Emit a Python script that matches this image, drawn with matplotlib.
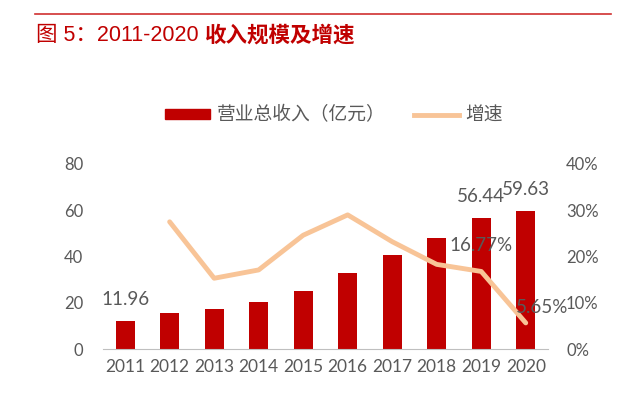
import matplotlib
matplotlib.use('Agg')
import matplotlib.pyplot as plt
from matplotlib.lines import Line2D
from matplotlib.patches import Patch

plt.rcParams['font.family'] = ['Lato', 'Noto Sans CJK SC', 'DejaVu Sans']

years = ['2011', '2012', '2013', '2014', '2015', '2016', '2017', '2018', '2019', '2020']
revenue = [11.96, 15.4, 17.3, 20.3, 25.2, 32.7, 40.6, 48.1, 56.44, 59.63]
growth = [None, 27.5, 15.3, 17.1, 24.6, 29.0, 23.2, 18.3, 16.77, 5.65]

bar_color = '#c00000'
line_color = '#f8c497'
text_color = '#595959'
title_color = '#c00000'

fig = plt.figure(figsize=(6.35, 3.98), dpi=100)

# header rule and title (number part regular, Chinese part bold)
fig.add_artist(Line2D([0.055, 0.962], [0.965, 0.965], color='#d03030', lw=1.2))
t1 = fig.text(0.057, 0.912, '图 5：2011-2020 ', color=title_color,
              fontsize=15.5, va='center', ha='left',
              family=['Liberation Sans', 'Noto Sans CJK SC'])
renderer = fig.canvas.get_renderer()
bb = t1.get_window_extent(renderer)
fig.text(bb.x1 / fig.bbox.width, 0.912, '收入规模及增速', color=title_color,
         fontsize=15.5, fontweight='bold', va='center', ha='left',
         family=['Noto Sans CJK SC', 'DejaVu Sans'])

ax = fig.add_axes([0.162, 0.123, 0.701, 0.465])
x = list(range(len(years)))
ax.bar(x, revenue, width=0.43, color=bar_color, zorder=2)
ax.set_xlim(-0.5, 9.5)
ax.set_ylim(0, 80)
ax.set_yticks([0, 20, 40, 60, 80])
ax.set_xticks(x)
ax.set_xticklabels(years)
for s in ['top', 'right', 'left']:
    ax.spines[s].set_visible(False)
ax.spines['bottom'].set_color('#bfbfbf')
ax.tick_params(length=0, colors=text_color, labelsize=12)
ax.tick_params(axis='x', pad=7, labelsize=12.5)
ax.tick_params(axis='y', pad=14)

ax2 = ax.twinx()
gx = [i for i, g in enumerate(growth) if g is not None]
gy = [g for g in growth if g is not None]
ax2.plot(gx, gy, color=line_color, lw=3.5, solid_capstyle='round', zorder=3)
ax2.set_ylim(0, 40)
ax2.set_yticks([0, 10, 20, 30, 40])
ax2.set_yticklabels(['0%', '10%', '20%', '30%', '40%'])
for s in ['top', 'right', 'left', 'bottom']:
    ax2.spines[s].set_visible(False)
ax2.tick_params(length=0, colors=text_color, labelsize=12, pad=13)

# data labels
for i in [0, 8, 9]:
    ax.annotate(f'{revenue[i]:.2f}', (i, revenue[i]), xytext=(0, 15.5),
                textcoords='offset points', ha='center', va='center',
                color=text_color, fontsize=13.5)
ax2.annotate(f'{growth[8]:.2f}%', (8, growth[8]), xytext=(0, 19),
             textcoords='offset points', ha='center', va='center',
             color=text_color, fontsize=13.5, zorder=4)
ax2.annotate(f'{growth[9]:.2f}%', (9, growth[9]), xytext=(12, 11),
             textcoords='offset points', ha='center', va='center',
             color=text_color, fontsize=13.5, zorder=4)

handles = [Patch(color=bar_color), Line2D([], [], color=line_color, lw=3.5)]
fig.legend(handles, ['营业总收入（亿元）', '增速'], loc='center',
           bbox_to_anchor=(0.526, 0.711), ncol=2, frameon=False,
           prop={'family': ['Noto Sans CJK SC', 'DejaVu Sans'], 'size': 13.5},
           labelcolor=text_color, handlelength=2.4, handleheight=0.45,
           columnspacing=1.5, handletextpad=0.37)

fig.savefig('out.png', dpi=100)
